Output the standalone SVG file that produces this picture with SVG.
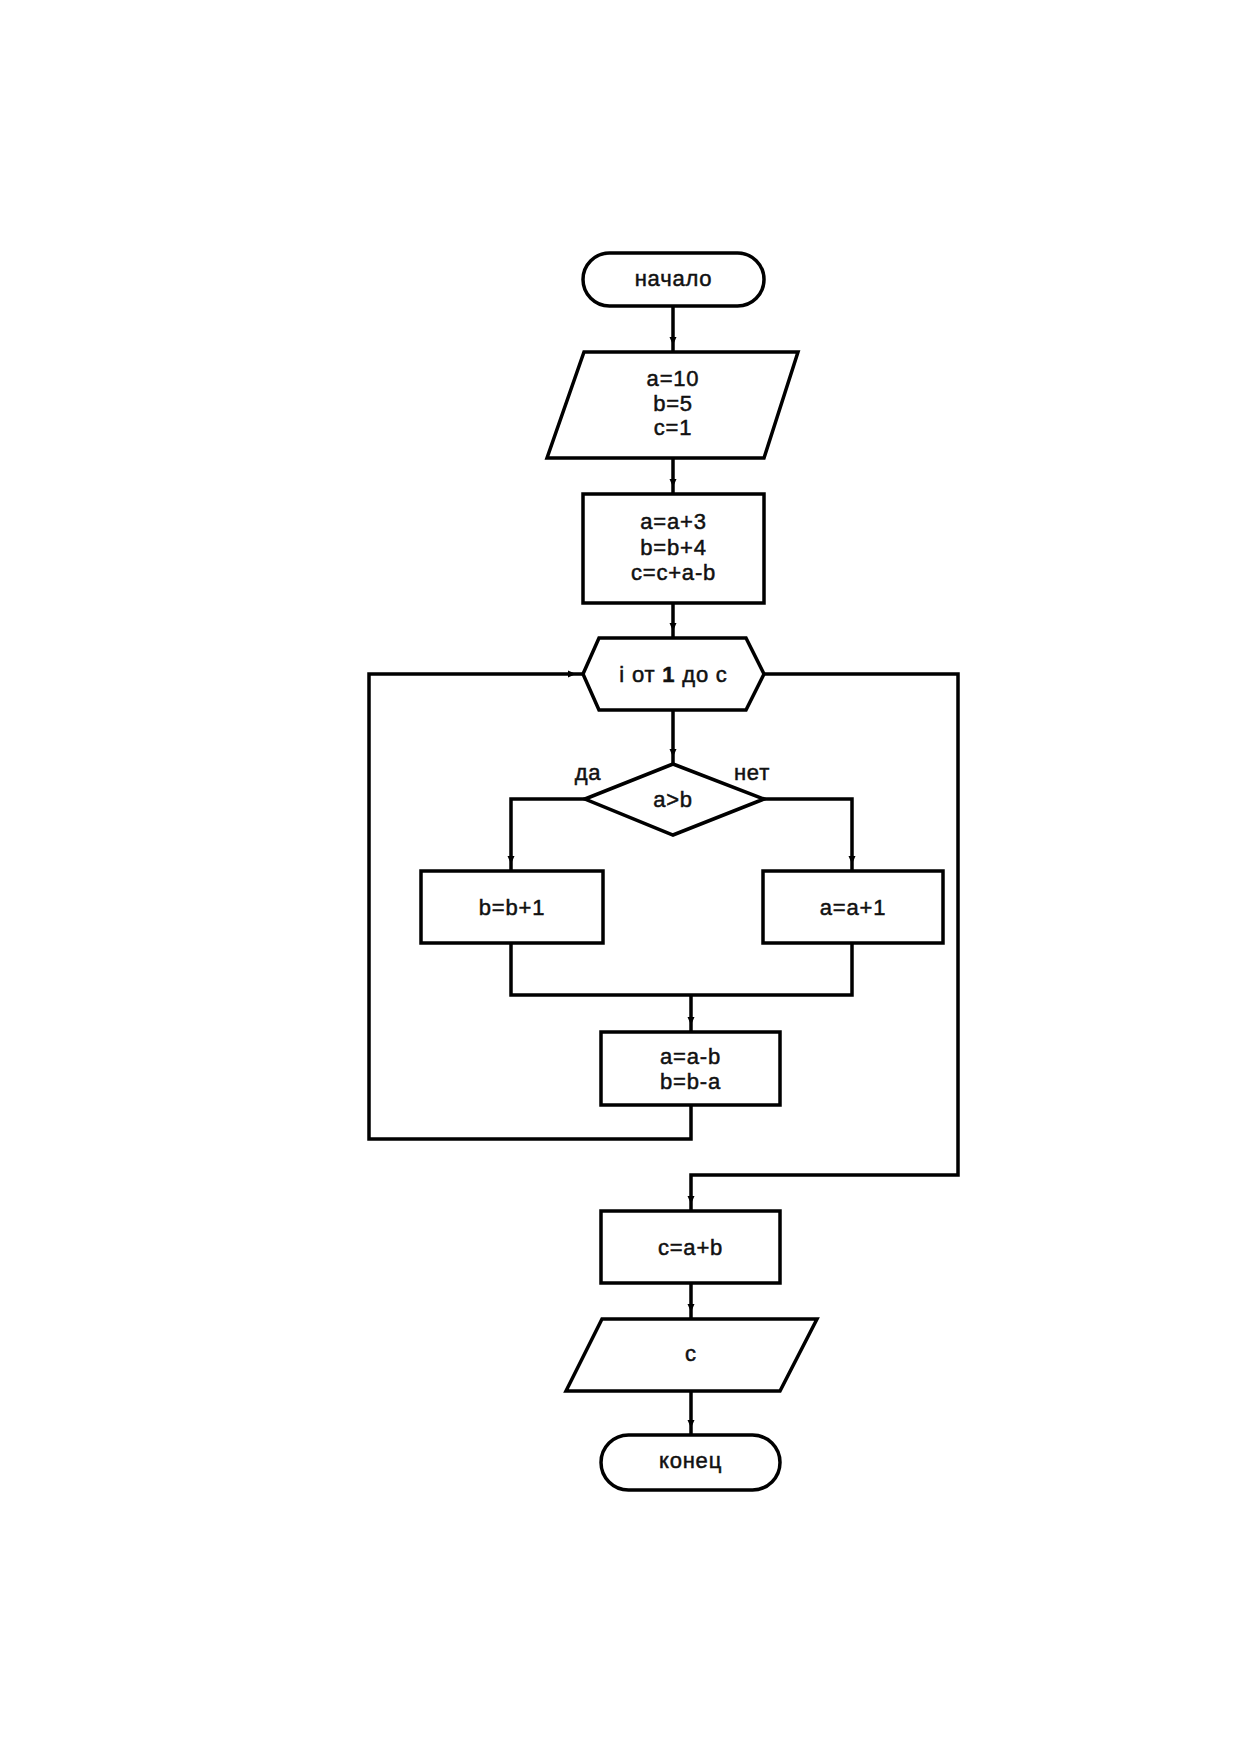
<svg xmlns="http://www.w3.org/2000/svg" width="1240" height="1754" viewBox="0 0 1240 1754">
<defs>
<marker id="arr" markerUnits="userSpaceOnUse" markerWidth="9" markerHeight="9" viewBox="0 0 9 9" refX="15" refY="4.5" orient="auto">
<path d="M0,1 L8,4.5 L0,8 z" fill="#000"/>
</marker>
<style>
.s{fill:#fff;stroke:#000;stroke-width:3.5;stroke-linejoin:miter}
.c{fill:none;stroke:#000;stroke-width:3.5;stroke-linejoin:miter}
.t{font-family:"Liberation Sans",Arial,sans-serif;font-size:22px;letter-spacing:0.8px;fill:#111;stroke:#111;stroke-width:0.5;text-anchor:middle}
</style>
</defs>
<rect width="1240" height="1754" fill="#fff"/>
<g id="connectors">
<path class="c" d="M673,306 V352" marker-end="url(#arr)"/>
<path class="c" d="M673,458 V494" marker-end="url(#arr)"/>
<path class="c" d="M673,603 V638" marker-end="url(#arr)"/>
<path class="c" d="M673,710 V764" marker-end="url(#arr)"/>
<path class="c" d="M585,799 H511 V871" marker-end="url(#arr)"/>
<path class="c" d="M764,799 H852 V871" marker-end="url(#arr)"/>
<path class="c" d="M511,943 V995 H852 V943"/>
<path class="c" d="M691,995 V1032" marker-end="url(#arr)"/>
<path class="c" d="M691,1105 V1139 H369 V674 H583" marker-end="url(#arr)"/>
<path class="c" d="M764,674 H958 V1175 H691 V1211" marker-end="url(#arr)"/>
<path class="c" d="M691,1283 V1319" marker-end="url(#arr)"/>
<path class="c" d="M691,1391 V1435" marker-end="url(#arr)"/>
</g>
<g id="start">
<rect class="s" x="583" y="253" width="181" height="53" rx="26.5"/>
<text class="t" x="673.5" y="286">начало</text>
</g>
<g id="input1">
<polygon class="s" points="584,352 798,352 764,458 547,458"/>
<text class="t" x="673" y="386">a=10</text>
<text class="t" x="673" y="411">b=5</text>
<text class="t" x="673" y="435">c=1</text>
</g>
<g id="proc1">
<rect class="s" x="583" y="494" width="181" height="109"/>
<text class="t" x="673.5" y="529">a=a+3</text>
<text class="t" x="673.5" y="555">b=b+4</text>
<text class="t" x="673.5" y="580">c=c+a-b</text>
</g>
<g id="loop">
<polygon class="s" points="583,674 599,638 746,638 764,674 746,710 599,710"/>
<text class="t" x="673.5" y="682">i от <tspan font-weight="bold">1</tspan> до с</text>
</g>
<g id="decision">
<polygon class="s" points="585,799 673,764 764,799 673,835"/>
<text class="t" x="673" y="807">a&gt;b</text>
<text class="t" x="588" y="780">да</text>
<text class="t" x="752" y="780">нет</text>
</g>
<g id="procYes">
<rect class="s" x="421" y="871" width="182" height="72"/>
<text class="t" x="512" y="915">b=b+1</text>
</g>
<g id="procNo">
<rect class="s" x="763" y="871" width="180" height="72"/>
<text class="t" x="853" y="915">a=a+1</text>
</g>
<g id="proc2">
<rect class="s" x="601" y="1032" width="179" height="73"/>
<text class="t" x="690.5" y="1064">a=a-b</text>
<text class="t" x="690.5" y="1089">b=b-a</text>
</g>
<g id="proc3">
<rect class="s" x="601" y="1211" width="179" height="72"/>
<text class="t" x="690.5" y="1255">c=a+b</text>
</g>
<g id="output">
<polygon class="s" points="602,1319 817,1319 780,1391 566,1391"/>
<text class="t" x="691" y="1361">c</text>
</g>
<g id="end">
<rect class="s" x="601" y="1435" width="179" height="55" rx="27.5"/>
<text class="t" x="690.5" y="1468">конец</text>
</g>
</svg>
